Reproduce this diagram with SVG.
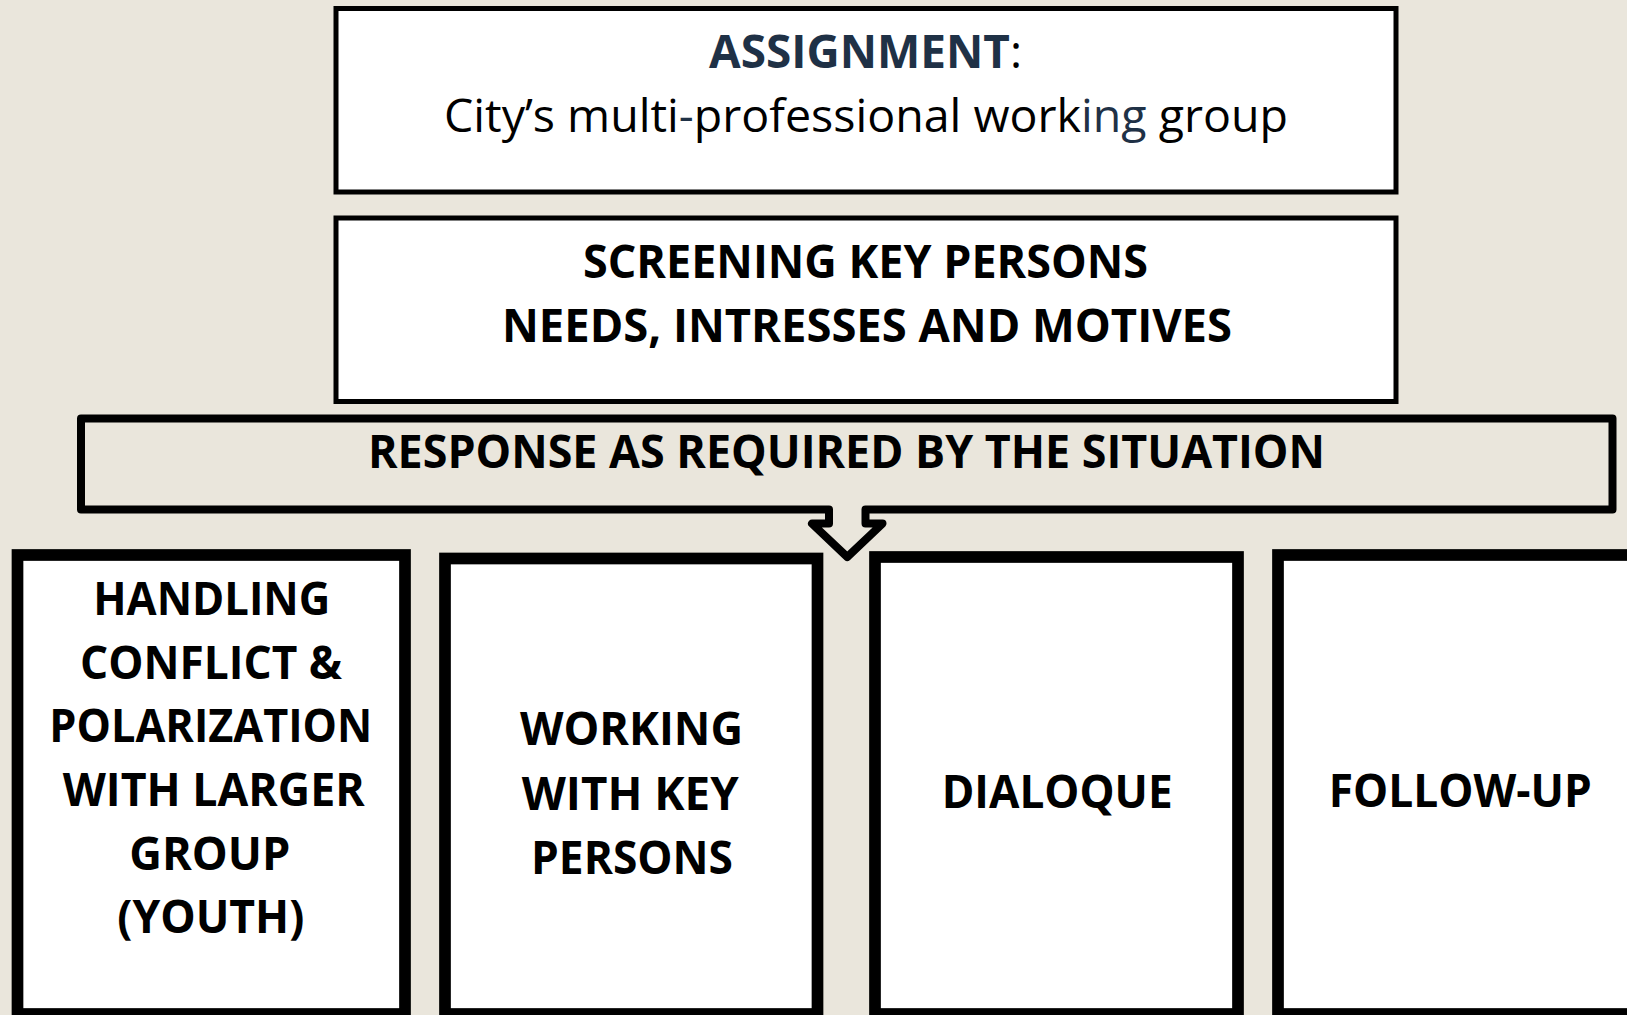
<svg xmlns="http://www.w3.org/2000/svg" width="1627" height="1015" viewBox="0 0 1627 1015">
<style>
  .bg { fill: #EAE6DC; }
  .top { fill: #FFFFFF; stroke: #000000; stroke-width: 5; }
  .col { fill: #FFFFFF; stroke: #000000; stroke-width: 11.7; }
  .callout { fill: #EAE6DC; stroke: #000000; stroke-width: 8; stroke-linejoin: round; }
  .t { font-family: "Open Sans", "Noto Sans", "Liberation Sans", sans-serif; fill: #000000; }
  .b { font-weight: bold; font-size: 46px; }
  .r { font-weight: normal; font-size: 46px; }
  .navy { fill: #1F3146; }
  .thin { font-weight: normal; }
</style>
<rect class="bg" x="0" y="0" width="1627" height="1015"/>

<g id="assignment">
  <rect class="top" x="336" y="8.5" width="1060" height="183.5"/>
  <text class="t b" x="709" y="68" textLength="313" lengthAdjust="spacingAndGlyphs"><tspan class="navy">ASSIGNMENT</tspan><tspan class="thin">:</tspan></text>
  <text class="t r" x="444" y="132" textLength="844" lengthAdjust="spacingAndGlyphs">City’s multi<tspan class="navy">-</tspan>professional work<tspan class="navy">ing</tspan> group</text>
</g>

<g id="screening">
  <rect class="top" x="336" y="218" width="1060" height="183.5"/>
  <text class="t b" x="583" y="277.5" textLength="565" lengthAdjust="spacingAndGlyphs">SCREENING KEY PERSONS</text>
  <text class="t b" x="502" y="341.5" textLength="730" lengthAdjust="spacingAndGlyphs">NEEDS, INTRESSES AND MOTIVES</text>
</g>

<g id="response">
  <path class="callout" d="M81,418.5 H1612.5 V509.5 H865.5 V523.6 H882.5 L847.25,557 L812,523.6 H829 V509.5 H81 Z"/>
  <text class="t b" x="368" y="468" textLength="957" lengthAdjust="spacingAndGlyphs">RESPONSE AS REQUIRED BY THE SITUATION</text>
</g>

<g id="handling">
  <rect class="col" x="17.5" y="555" width="387.5" height="459"/>
  <text class="t b" x="93.3" y="615" textLength="237" lengthAdjust="spacingAndGlyphs">HANDLING</text>
  <text class="t b" x="80" y="678.5" textLength="262" lengthAdjust="spacingAndGlyphs">CONFLICT &amp;</text>
  <text class="t b" x="49.3" y="742.3" textLength="323" lengthAdjust="spacingAndGlyphs">POLARIZATION</text>
  <text class="t b" x="62.7" y="806" textLength="302" lengthAdjust="spacingAndGlyphs">WITH LARGER</text>
  <text class="t b" x="129.3" y="869.7" textLength="161" lengthAdjust="spacingAndGlyphs">GROUP</text>
  <text class="t b" x="117.3" y="933.4" textLength="187" lengthAdjust="spacingAndGlyphs">(YOUTH)</text>
</g>

<g id="working">
  <rect class="col" x="445" y="558.5" width="372.5" height="455.5"/>
  <text class="t b" x="520" y="745" textLength="223" lengthAdjust="spacingAndGlyphs">WORKING</text>
  <text class="t b" x="521.7" y="810" textLength="217" lengthAdjust="spacingAndGlyphs">WITH KEY</text>
  <text class="t b" x="531" y="874.3" textLength="202" lengthAdjust="spacingAndGlyphs">PERSONS</text>
</g>

<g id="dialoque">
  <rect class="col" x="875" y="557" width="363" height="457"/>
  <text class="t b" x="941.7" y="808.3" textLength="231" lengthAdjust="spacingAndGlyphs">DIALOQUE</text>
</g>

<g id="follow-up">
  <rect class="col" x="1278" y="555" width="364" height="459"/>
  <text class="t b" x="1328.7" y="806.7" textLength="263" lengthAdjust="spacingAndGlyphs">FOLLOW-UP</text>
</g>

<g id="connectors"></g>
</svg>
